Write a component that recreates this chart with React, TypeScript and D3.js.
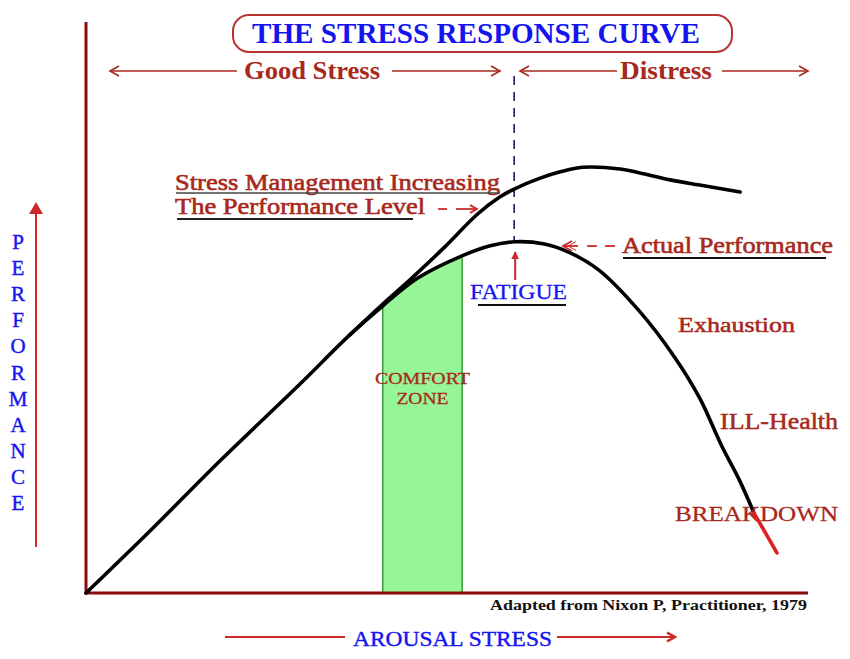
import React from "react";
import * as d3 from "d3";

// Actual performance curve (arousal %, performance %)
const actualArousal = [0, 9, 18.5, 29.5, 36.5, 41, 46, 52, 56, 59.5, 63.5, 67, 71, 76.5, 81.5, 85, 88, 90.5, 92.5];
const actualPerformance = [0, 11, 23, 36.3, 45, 50, 55, 58.8, 60.6, 61.3, 60.9, 59.4, 56.4, 49.4, 41.2, 34, 25.8, 19.7, 14];
// Breakdown tail (drawn in red)
const breakdownArousal = [92.5, 95.7];
const breakdownPerformance = [14, 7];
// Stress-management curve
const managedArousal = [36.5, 41, 44.9, 49.7, 54.2, 57.3, 59.3, 62.9, 65.7, 68.8, 74, 76.7, 80.9, 85, 90.6];
const managedPerformance = [45, 50.3, 54.7, 60.4, 66.1, 69.1, 70.5, 72.4, 73.5, 74.3, 74, 73.3, 72.1, 71.2, 70];
// Comfort zone and fatigue boundary
const comfortZone = [41.1, 52.1];
const fatigueArousal = 59.3;
const yLetters = ["P", "E", "R", "F", "O", "R", "M", "A", "N", "C", "E"];

const W = 850, H = 659;
const x = d3.scaleLinear().domain([0, 100]).range([86, 808]);
const y = d3.scaleLinear().domain([0, 100]).range([593, 20]);

type P = [number, number];
const zip = (a: number[], b: number[]): P[] => a.map((v, i) => [v, b[i]]);

const SERIF = "'Liberation Serif', 'Times New Roman', serif";
const DARKRED = "#a8281c";
const BLUE = "#1414f0";
const ARROW = "#cc2a2a";

export default function App() {
  const line = d3.line<P>().x(d => x(d[0])).y(d => y(d[1])).curve(d3.curveCatmullRom.alpha(0.5));
  const area = d3.area<P>().x(d => x(d[0])).y0(y(0)).y1(d => y(d[1])).curve(d3.curveCatmullRom.alpha(0.5));
  const actual = zip(actualArousal, actualPerformance);
  const managed = zip(managedArousal, managedPerformance);
  const breakdown = zip(breakdownArousal, breakdownPerformance);
  const cz0 = x(comfortZone[0]), cz1 = x(comfortZone[1]);
  const fx = x(fatigueArousal);
  const peakY = y(d3.max(actualPerformance) as number);

  const chevron = (tx: number, ty: number, dir: number, s = 9) =>
    `M${tx - dir * s},${ty - s * 0.55} L${tx},${ty} L${tx - dir * s},${ty + s * 0.55}`;

  return (
    <svg width={W} height={H} style={{ display: "block", position: "absolute", left: 0, top: 0, background: "#fff" }}>
      <defs>
        <clipPath id="cz">
          <rect x={cz0} y={0} width={cz1 - cz0} height={H} />
        </clipPath>
        <marker id="tri" viewBox="0 0 10 10" refX="9" refY="5" markerWidth="4" markerHeight="4" orient="auto">
          <path d="M0,0 L10,5 L0,10 z" fill={ARROW} />
        </marker>
      </defs>

      {/* comfort zone */}
      <path d={area(actual) || ""} clipPath="url(#cz)" fill="#96f596" />
      <line x1={cz0} x2={cz0} y1={y(0)} y2={y(50)} stroke="#3c9a3c" strokeWidth={1.5} />
      <line x1={cz1} x2={cz1} y1={y(0)} y2={y(58.6)} stroke="#3c9a3c" strokeWidth={1.5} />
      <text x={(cz0 + cz1) / 2} y={384} textAnchor="middle" fontFamily={SERIF} fontSize={17} fill={DARKRED} stroke={DARKRED} strokeWidth={0.3} textLength={95} lengthAdjust="spacingAndGlyphs">COMFORT</text>
      <text x={(cz0 + cz1) / 2} y={404} textAnchor="middle" fontFamily={SERIF} fontSize={17} fill={DARKRED} stroke={DARKRED} strokeWidth={0.3} textLength={52} lengthAdjust="spacingAndGlyphs">ZONE</text>

      {/* axes */}
      <line x1={x(0)} x2={x(0)} y1={22} y2={y(0) + 1.5} stroke="#8b0a0a" strokeWidth={3} />
      <line x1={x(0)} x2={x(100)} y1={y(0)} y2={y(0)} stroke="#8b0a0a" strokeWidth={3} />

      {/* fatigue divider */}
      <line x1={fx} x2={fx} y1={76} y2={peakY} stroke="#1c1c6a" strokeWidth={1.6} strokeDasharray="9,7" />

      {/* curves */}
      <path d={line(managed) || ""} fill="none" stroke="#000" strokeWidth={3.6} strokeLinejoin="round" strokeLinecap="round" />
      <path d={line(actual) || ""} fill="none" stroke="#000" strokeWidth={3.6} strokeLinejoin="round" strokeLinecap="round" />

      {/* title */}
      <rect x={233} y={15} width={499} height={37} rx={16} ry={16} fill="none" stroke="#b8342c" strokeWidth={2} />
      <text x={252} y={43} fontFamily={SERIF} fontWeight="bold" fontSize={29} fill={BLUE} textLength={448} lengthAdjust="spacingAndGlyphs">THE STRESS RESPONSE CURVE</text>

      {/* header arrows */}
      <g stroke={DARKRED} strokeWidth={1.6} fill="none">
        <line x1={110} x2={237} y1={71} y2={71} />
        <path d={chevron(110, 71, -1)} />
        <line x1={392} x2={500} y1={71} y2={71} />
        <path d={chevron(500, 71, 1)} />
        <line x1={520} x2={617} y1={71} y2={71} />
        <path d={chevron(520, 71, -1)} />
        <line x1={722} x2={808} y1={71} y2={71} />
        <path d={chevron(808, 71, 1)} />
      </g>
      <text x={244} y={79} fontFamily={SERIF} fontWeight="bold" fontSize={25} fill={DARKRED} textLength={136} lengthAdjust="spacingAndGlyphs">Good Stress</text>
      <text x={620} y={79} fontFamily={SERIF} fontWeight="bold" fontSize={25} fill={DARKRED} textLength={92} lengthAdjust="spacingAndGlyphs">Distress</text>

      {/* stress management annotation */}
      <text x={175} y={190} fontFamily={SERIF} fontSize={23} fill={DARKRED} stroke={DARKRED} strokeWidth={0.6} textLength={325} lengthAdjust="spacingAndGlyphs">Stress Management Increasing</text>
      <line x1={176} x2={500} y1={193} y2={193} stroke="#444" strokeWidth={1.6} />
      <text x={175} y={214} fontFamily={SERIF} fontSize={23} fill={DARKRED} stroke={DARKRED} strokeWidth={0.6} textLength={250} lengthAdjust="spacingAndGlyphs">The Performance Level</text>
      <line x1={177} x2={413} y1={219} y2={219} stroke="#222" strokeWidth={2} />
      <g stroke={ARROW} strokeWidth={1.8} fill="none">
        <line x1={438} x2={447} y1={209} y2={209} />
        <line x1={456} x2={476} y1={209} y2={209} />
        <path d={chevron(477, 209, 1, 7)} />
      </g>

      {/* actual performance annotation */}
      <g stroke={ARROW} strokeWidth={1.8} fill="none">
        <path d={chevron(563, 246, -1, 9)} />
        <path d={chevron(568, 246, -1, 8)} strokeWidth={1} />
        <line x1={564} x2={578} y1={246} y2={246} />
        <line x1={587} x2={597} y1={246} y2={246} />
        <line x1={605} x2={615} y1={246} y2={246} />
      </g>
      <text x={622} y={253} fontFamily={SERIF} fontSize={23} fill={DARKRED} stroke={DARKRED} strokeWidth={0.6} textLength={211} lengthAdjust="spacingAndGlyphs">Actual Performance</text>
      <line x1={623} x2={826} y1={258} y2={258} stroke="#111" strokeWidth={2} />

      {/* fatigue */}
      <line x1={fx + 1} x2={fx + 1} y1={280} y2={252} stroke={ARROW} strokeWidth={2} markerEnd="url(#tri)" />
      <text x={470} y={299} fontFamily={SERIF} fontSize={22} fill={BLUE} stroke={BLUE} strokeWidth={0.3} textLength={97} lengthAdjust="spacingAndGlyphs">FATIGUE</text>
      <line x1={478} x2={566} y1={305} y2={305} stroke="#111" strokeWidth={2} />

      {/* stage labels */}
      <text x={678} y={332} fontFamily={SERIF} fontSize={22} fill={DARKRED} stroke={DARKRED} strokeWidth={0.5} textLength={117} lengthAdjust="spacingAndGlyphs">Exhaustion</text>
      <text x={720} y={429} fontFamily={SERIF} fontSize={23} fill={DARKRED} stroke={DARKRED} strokeWidth={0.5} textLength={118} lengthAdjust="spacingAndGlyphs">ILL-Health</text>
      <text x={675} y={521} fontFamily={SERIF} fontSize={22} fill={DARKRED} stroke={DARKRED} strokeWidth={0.3} textLength={163} lengthAdjust="spacingAndGlyphs">BREAKDOWN</text>
      <path d={line(breakdown) || ""} fill="none" stroke="#e02020" strokeWidth={3.6} strokeLinecap="round" />

      {/* source */}
      <text x={807} y={610} textAnchor="end" fontFamily={SERIF} fontWeight="bold" fontSize={14} fill="#111" textLength={317} lengthAdjust="spacingAndGlyphs">Adapted from Nixon P, Practitioner, 1979</text>

      {/* x axis label */}
      <line x1={225} x2={345} y1={637} y2={637} stroke={ARROW} strokeWidth={2} />
      <line x1={557} x2={673} y1={637} y2={637} stroke={ARROW} strokeWidth={2} />
      <path d={chevron(675, 637, 1, 8)} stroke={ARROW} strokeWidth={2.4} fill="none" />
      <text x={353} y={646} fontFamily={SERIF} fontSize={22} fill={BLUE} stroke={BLUE} strokeWidth={0.4} textLength={199} lengthAdjust="spacingAndGlyphs">AROUSAL STRESS</text>

      {/* y axis label */}
      <line x1={36} x2={36} y1={547} y2={210} stroke={ARROW} strokeWidth={2} />
      <path d="M29,214 L36,202 L43,214 z" fill={ARROW} />
      {yLetters.map((l, i) => (
        <text key={i} x={18} y={249 + i * 26.1} textAnchor="middle" fontFamily={SERIF} fontSize={21} fill={BLUE} stroke={BLUE} strokeWidth={0.4}>{l}</text>
      ))}
    </svg>
  );
}
